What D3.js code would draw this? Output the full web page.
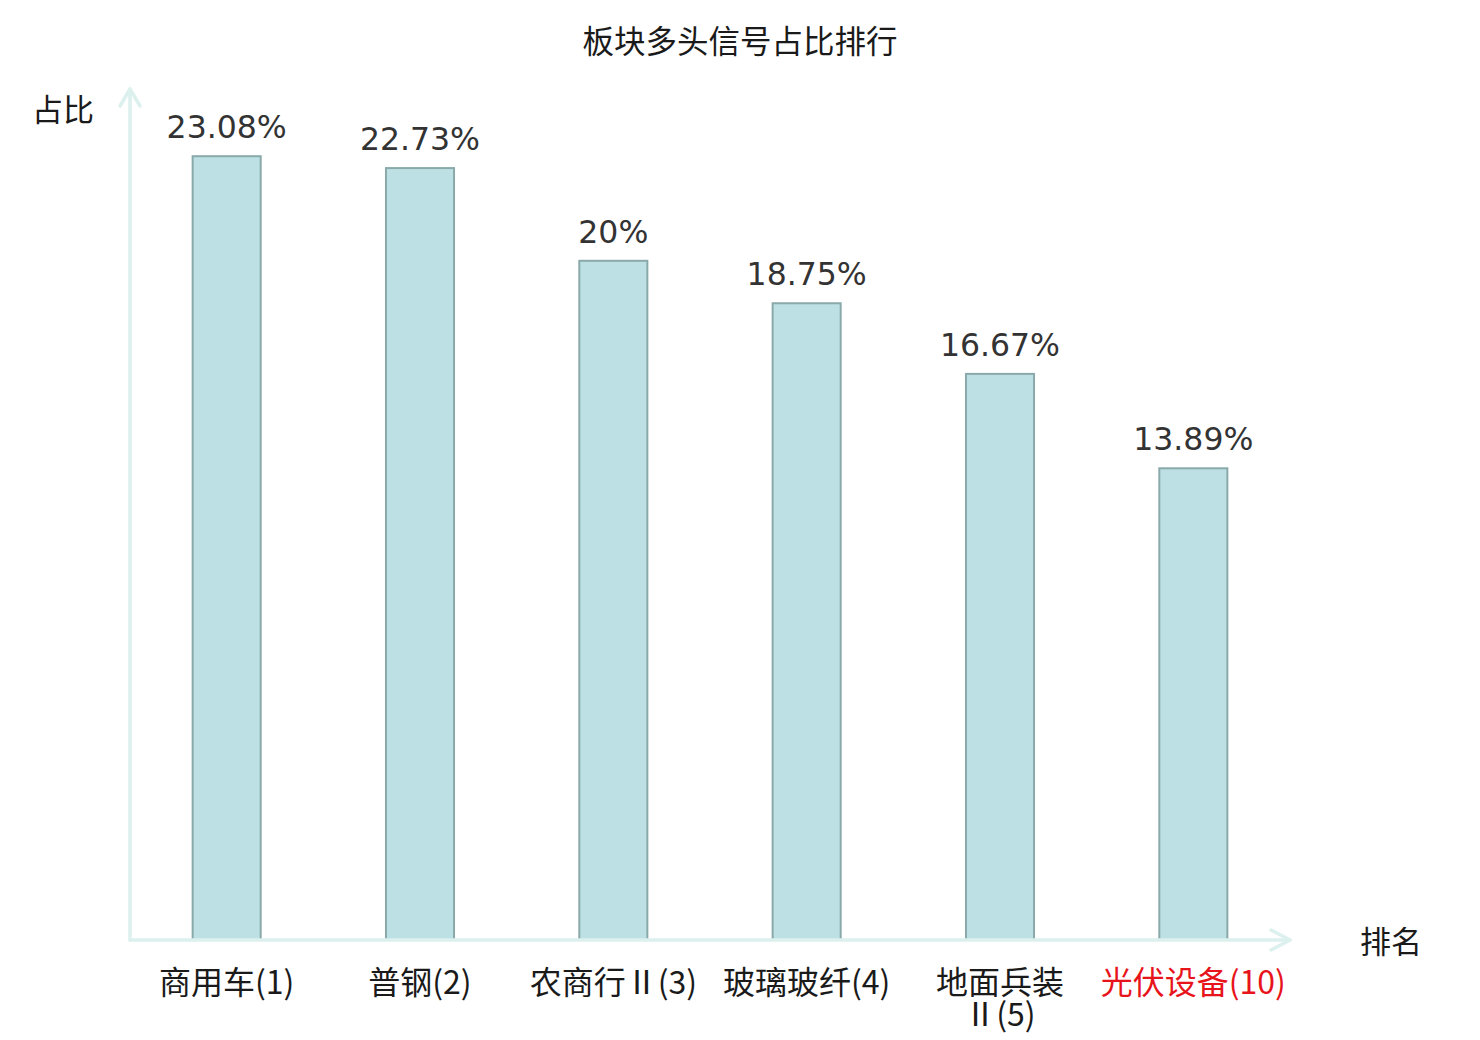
<!DOCTYPE html>
<html>
<head>
<meta charset="utf-8">
<script src="https://cdn.jsdelivr.net/npm/d3@7/dist/d3.min.js"></script>
<style>
  html, body { margin: 0; padding: 0; background: #fff; }
  svg { display: block; }
</style>
</head>
<body>
<svg id="chart" width="1480" height="1040"></svg>
<script>
// ---- data ----
const categories = ["商用车(1)", "普钢(2)", "农商行Ⅱ(3)", "玻璃玻纤(4)", "地面兵装\nⅡ(5)", "光伏设备(10)"];
const values = [23.08, 22.73, 20, 18.75, 16.67, 13.89];
const valueLabels = ["23.08%", "22.73%", "20%", "18.75%", "16.67%", "13.89%"];
const highlighted = ["光伏设备(10)"];
const title = "板块多头信号占比排行";
const yName = "占比";
const xName = "排名";

// ---- layout ----
(function () {
const svg = d3.select("#chart");
const plotLeft = 130, plotRight = 1290, plotBottom = 940, plotTop = 91;
const cjk = "'Noto Sans CJK SC', 'Noto Sans', sans-serif";
const axisColor = "#dcf1ee";

const x = d3.scaleBand().domain(categories).range([plotLeft, plotRight]).padding(0);
const y = d3.scaleLinear().domain([0, 25]).range([plotBottom, plotTop]);
const barW = x.bandwidth() * 0.352;

// title
svg.append("text")
  .attr("x", 740).attr("y", 53)
  .attr("text-anchor", "middle")
  .attr("font-family", cjk).attr("font-size", 31.5)
  .attr("fill", "#1a1a1a")
  .text(title);

// bars
svg.append("g").selectAll("rect")
  .data(categories)
  .join("rect")
  .attr("x", d => x(d) + x.bandwidth() / 2 - barW / 2)
  .attr("y", (d, i) => y(values[i]))
  .attr("width", barW)
  .attr("height", (d, i) => y(0) - y(values[i]))
  .attr("fill", "#bce0e3")
  .attr("stroke", "#8aa9aa")
  .attr("stroke-width", 2);

// value labels
svg.append("g").selectAll("text")
  .data(categories)
  .join("text")
  .attr("x", d => x(d) + x.bandwidth() / 2)
  .attr("y", (d, i) => y(values[i]) - 18)
  .attr("text-anchor", "middle")
  .attr("font-family", "'DejaVu Sans', sans-serif")
  .attr("font-size", 31.5)
  .attr("fill", "#333")
  .text((d, i) => valueLabels[i]);

// axes lines
const axisG = svg.append("g")
  .attr("stroke", axisColor).attr("stroke-width", 3.5).attr("fill", "none")
  .attr("stroke-linecap", "round").attr("stroke-linejoin", "round");
axisG.append("line").attr("x1", plotLeft).attr("y1", plotBottom).attr("x2", plotLeft).attr("y2", 89);
axisG.append("line").attr("x1", plotLeft).attr("y1", plotBottom).attr("x2", plotRight).attr("y2", plotBottom);
axisG.append("path").attr("d", d3.line()([[plotLeft - 10, 106], [plotLeft, 89], [plotLeft + 10, 106]]));
axisG.append("path").attr("d", d3.line()([[plotRight - 19, plotBottom - 10], [plotRight, plotBottom], [plotRight - 19, plotBottom + 10]]));

// x category labels
const xl = svg.append("g").selectAll("text")
  .data(categories)
  .join("text")
  .attr("x", d => x(d) + x.bandwidth() / 2)
  .attr("y", 994)
  .attr("text-anchor", "middle")
  .attr("font-family", cjk).attr("font-size", 32)
  .attr("fill", d => highlighted.includes(d) ? "#e8141b" : "#1a1a1a");
xl.each(function(d) {
  const lines = d.split("\n");
  const t = d3.select(this);
  lines.forEach((ln, j) => {
    t.append("tspan")
      .attr("x", x(d) + x.bandwidth() / 2)
      .attr("dy", j === 0 ? 0 : 32)
      .text(ln);
  });
});

// axis names
svg.append("text")
  .attr("x", 63).attr("y", 121)
  .attr("text-anchor", "middle")
  .attr("font-family", cjk).attr("font-size", 31)
  .attr("fill", "#1a1a1a")
  .text(yName);
svg.append("text")
  .attr("x", 1391).attr("y", 953)
  .attr("text-anchor", "middle")
  .attr("font-family", cjk).attr("font-size", 31)
  .attr("fill", "#1a1a1a")
  .text(xName);
})();
</script>
</body>
</html>
